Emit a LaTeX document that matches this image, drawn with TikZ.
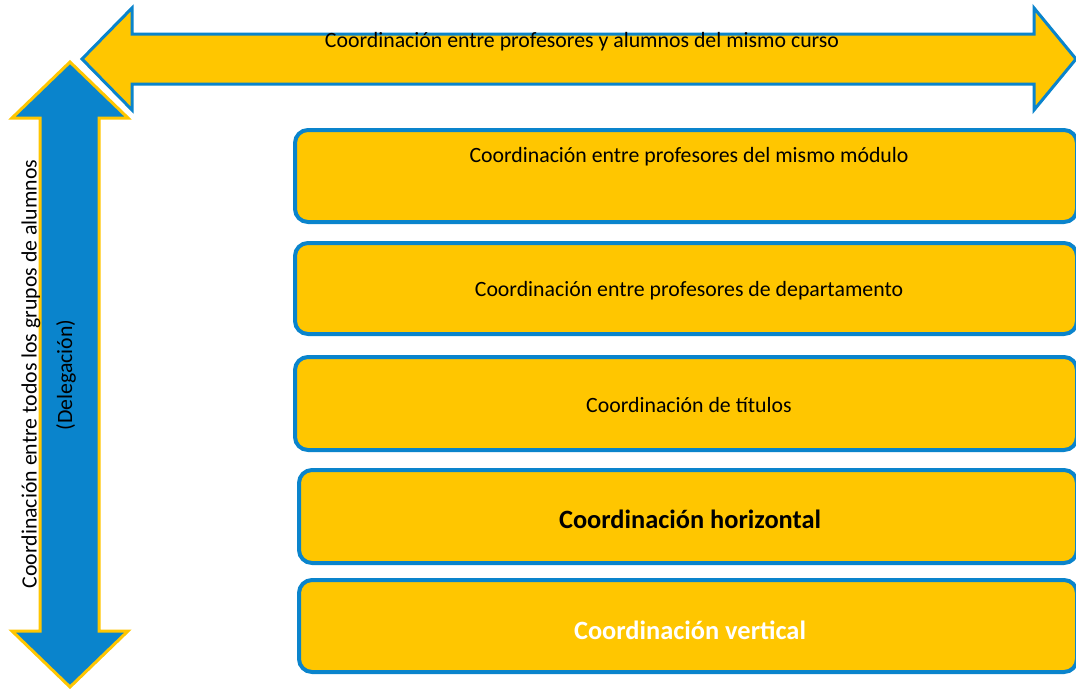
\documentclass[tikz,border=0pt]{standalone}
\usepackage{fontspec}
\setmainfont{Carlito}
\definecolor{cyel}{HTML}{FFC600}
\definecolor{cblu}{HTML}{0A84CC}
\begin{document}
\begin{tikzpicture}[x=1pt,y=-1pt,
  boxstyle/.style={draw=cblu,line width=4pt,fill=cyel,rounded corners=13pt,
    minimum height=#1,inner sep=0pt,anchor=north west},
  lbl/.style={font=\fontsize{21.8}{25}\selectfont,text=black,inner sep=0pt},
  lblbold/.style={font=\fontsize{26.4}{30}\selectfont\bfseries,inner sep=0pt}]
\useasboundingbox (0,0) rectangle (1076,688);
\fill[white] (0,0) rectangle (1076,688);
% vertical double arrow
\draw[fill=cblu,draw=cyel,line width=3pt,line join=miter]
  (70,62) -- (128,118) -- (99,118) -- (99,631) -- (128,631) -- (70,687)
  -- (12,631) -- (40,631) -- (40,118) -- (12,118) -- cycle;
% horizontal double arrow
\path[draw=white,line width=9pt,line join=miter]
  (82,59) -- (132,8) -- (132,34) -- (1034,34) -- (1034,8) -- (1076,59)
  -- (1034,110) -- (1034,84) -- (132,84) -- (132,110) -- cycle;
\draw[fill=cyel,draw=cblu,line width=3pt,line join=miter]
  (82,59) -- (132,8) -- (132,34) -- (1034,34) -- (1034,8) -- (1076,59)
  -- (1034,110) -- (1034,84) -- (132,84) -- (132,110) -- cycle;
\node[lbl] (toplbl) at (582,42) {Coordinación entre profesores y alumnos del mismo curso};
\node[lbl,rotate=90] (leftlbl) at (31,374) {Coordinación entre todos los grupos de alumnos};
\node[lbl,rotate=90] (deleg) at (66,375) {(Delegación)};
% boxes
\node[boxstyle=92pt,minimum width=782pt] (b1) at (293,128) {};
\node[boxstyle=91pt,minimum width=782pt] (b2) at (293,241) {};
\node[boxstyle=93pt,minimum width=782pt] (b3) at (293,355) {};
\node[boxstyle=93pt,minimum width=778pt] (b4) at (297,468) {};
\node[boxstyle=92pt,minimum width=778pt] (b5) at (297,578) {};
\node[lbl] (t1) at (689,157) {Coordinación entre profesores del mismo módulo};
\node[lbl] (t2) at (689,291) {Coordinación entre profesores de departamento};
\node[lbl] (t3) at (689,405) {Coordinación de títulos};
\node[lblbold,text=black] (t4) at (690,519) {Coordinación horizontal};
\node[lblbold,text=white] (t5) at (690,630) {Coordinación vertical};
\end{tikzpicture}
\end{document}
